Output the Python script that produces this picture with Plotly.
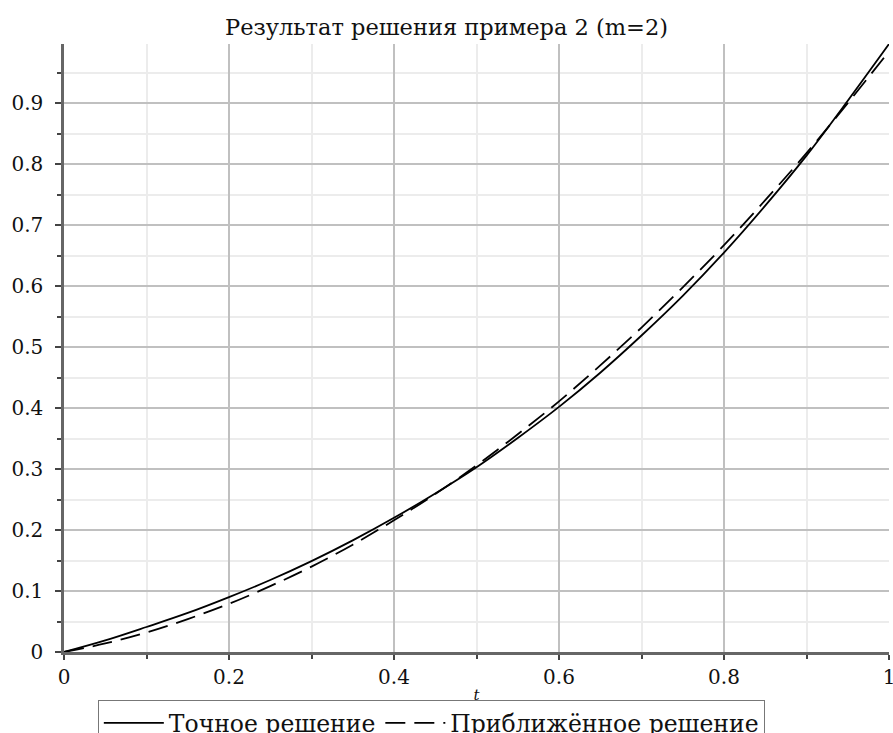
import plotly.graph_objects as go

t_values = [0.0, 0.05, 0.1, 0.15, 0.2, 0.25, 0.3, 0.35, 0.4, 0.45, 0.5,
            0.55, 0.6, 0.65, 0.7, 0.75, 0.8, 0.85, 0.9, 0.95, 1.0]
exact_values = [0.0, 0.019, 0.041, 0.064, 0.090, 0.118, 0.149, 0.183, 0.220, 0.260, 0.303,
                0.351, 0.402, 0.458, 0.519, 0.584, 0.655, 0.732, 0.814, 0.904, 0.997]
approx_values = [0.0, 0.014, 0.032, 0.054, 0.079, 0.108, 0.140, 0.176, 0.216, 0.259, 0.306,
                 0.357, 0.411, 0.470, 0.532, 0.598, 0.667, 0.741, 0.818, 0.900, 0.985]

x_tick_vals = [0, 0.2, 0.4, 0.6, 0.8, 1]
x_tick_text = ["0", "0.2", "0.4", "0.6", "0.8", "1"]
y_tick_vals = [0, 0.1, 0.2, 0.3, 0.4, 0.5, 0.6, 0.7, 0.8, 0.9]
y_tick_text = ["0", "0.1", "0.2", "0.3", "0.4", "0.5", "0.6", "0.7", "0.8", "0.9"]

title_text = "Результат решения примера 2 (m=2)"
name_exact = "Точное решение"
name_approx = "Приближённое решение"

FONT = "DejaVu Serif"
W, H = 893, 733

fig = go.Figure()
fig.add_trace(go.Scatter(x=t_values, y=exact_values, mode="lines", name=name_exact,
                         line=dict(color="black", width=1.8, shape="spline")))
fig.add_trace(go.Scatter(x=t_values, y=approx_values, mode="lines", name=name_approx,
                         line=dict(color="black", width=1.8, dash="20px,9px", shape="spline")))

fig.update_layout(
    width=W, height=H,
    paper_bgcolor="white", plot_bgcolor="white",
    margin=dict(l=64, r=4, t=44, b=81, autoexpand=False),
    font=dict(family=FONT, size=18, color="#111"),
    title=dict(text=title_text, x=0.5, xanchor="center", y=1 - 27 / H, yanchor="middle",
               font=dict(family=FONT, size=22.5, color="#111")),
    showlegend=True,
    legend=dict(orientation="h", x=0.041, xanchor="left", y=-0.079, yanchor="top",
                bordercolor="#777", borderwidth=1, bgcolor="white",
                font=dict(family=FONT, size=23.5, color="#111"),
                itemwidth=60, tracegroupgap=0),
)
fig.update_xaxes(
    range=[0, 1], tickvals=x_tick_vals, ticktext=x_tick_text,
    ticklabeloverflow="allow",
    showgrid=True, gridcolor="#c0c0c0", gridwidth=1.5,
    showline=True, linecolor="#666", linewidth=2.5,
    ticks="outside", ticklen=5, tickcolor="#444", tickwidth=1.5,
    zeroline=False,
    minor=dict(dtick=0.1, showgrid=True, gridcolor="#ececec", gridwidth=1.5,
               ticks="outside", ticklen=4, tickcolor="#444"),
    tickfont=dict(family=FONT, size=20, color="#111"),
    title=dict(text="<i>t</i>", standoff=2, font=dict(family=FONT, size=15, color="#111")),
)
fig.update_yaxes(
    range=[0, 0.997], tickvals=y_tick_vals, ticktext=y_tick_text,
    ticklabeloverflow="allow", ticklabelstandoff=8,
    showgrid=True, gridcolor="#c0c0c0", gridwidth=1.5,
    showline=True, linecolor="#666", linewidth=2.5,
    ticks="outside", ticklen=6, tickcolor="#444", tickwidth=1.5,
    zeroline=False,
    minor=dict(dtick=0.05, showgrid=True, gridcolor="#ececec", gridwidth=1.5,
               ticks="outside", ticklen=4, tickcolor="#444"),
    tickfont=dict(family=FONT, size=20, color="#111"),
)

fig.write_html(
    "out.html",
    config={"displayModeBar": False},
    post_script="document.body.style.margin='0';"
                "document.documentElement.style.overflow='hidden';"
                "document.body.style.overflow='hidden';",
)
